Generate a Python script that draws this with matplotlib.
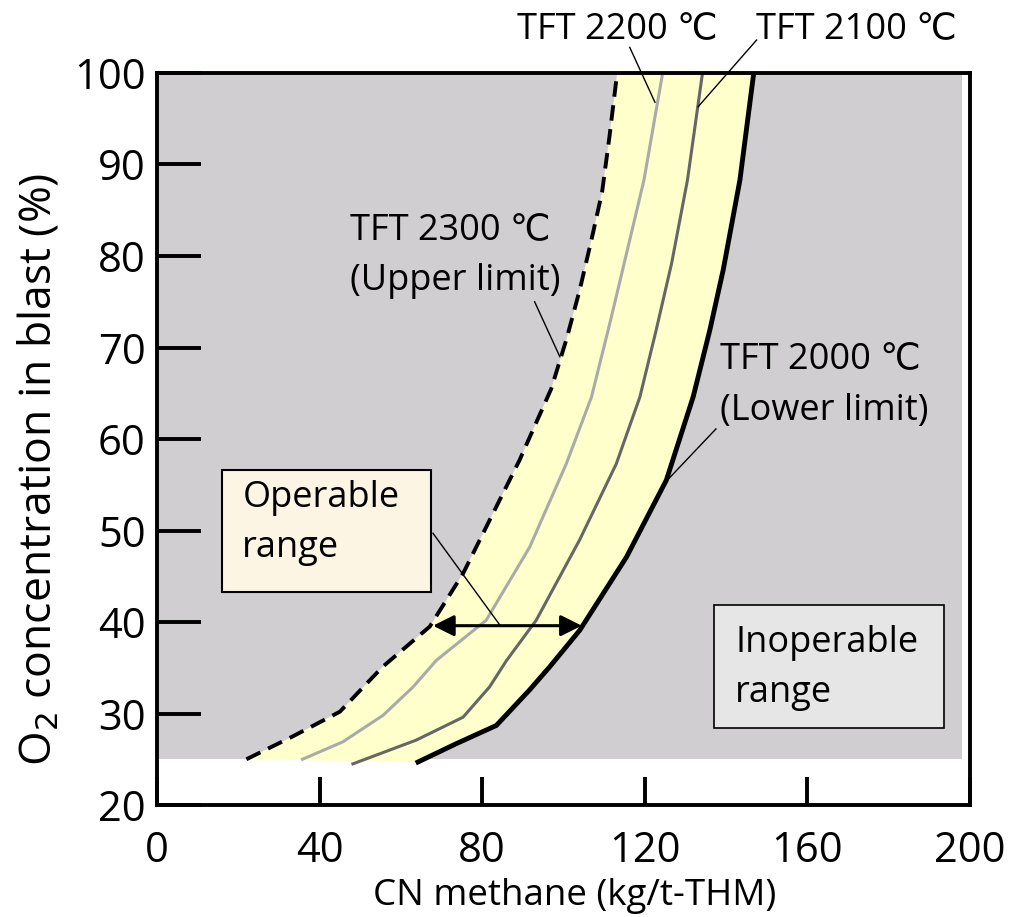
import matplotlib
matplotlib.use("Agg")
import matplotlib.pyplot as plt
from matplotlib.patches import Rectangle

plt.rcParams['font.family'] = ['Open Sans', 'DejaVu Sans']

# curves: CN methane (kg/t-THM) vs O2 (%)
x2300 = [22, 33.4, 45, 55.5, 61.3, 67.1, 75.3, 81.8, 89.2, 97, 100.8, 104, 107, 109.5, 111.3, 113.2]
y2300 = [25, 27.5, 30.2, 35.1, 37.3, 39.5, 45.3, 51.1, 57.7, 65.5, 71, 76.3, 82, 87, 93, 100]
x2200 = [35.8, 45.7, 55.6, 63, 68.7, 81, 91.7, 100.7, 106.9, 111.6, 115.9, 119.8, 124.4]
y2200 = [25, 26.9, 29.8, 32.9, 35.8, 40.2, 48.2, 57.3, 64.6, 73, 81, 88.3, 100]
x2100 = [48.2, 63.8, 75.3, 81.8, 86, 93.3, 104, 113, 118.8, 122.8, 126.6, 130.5, 134.2]
y2100 = [24.5, 27.1, 29.6, 32.9, 35.8, 40.2, 49, 57.3, 64.6, 71.9, 79.2, 88.3, 100]
x2000 = [64.2, 73.6, 83.5, 91.7, 96.6, 104, 115.5, 125.3, 131.9, 136, 139.3, 143.4, 146.8]
y2000 = [24.7, 26.7, 28.7, 32.6, 35.1, 39.1, 47.1, 55.5, 64.6, 71.9, 78.5, 88.3, 100]

xticks = [0, 40, 80, 120, 160, 200]
yticks = [20, 30, 40, 50, 60, 70, 80, 90, 100]

fig = plt.figure(figsize=(10.1, 9.17), dpi=100)
ax = fig.add_axes([0.1554, 0.1221, 0.805, 0.7983])
ax.set_xlim(0, 200)
ax.set_ylim(20, 100)

# inoperable background
ax.add_patch(Rectangle((0, 25), 198, 75, facecolor='#d0ced0', edgecolor='none', zorder=0))

# operable band
ax.fill(x2300 + x2000[::-1], y2300 + y2000[::-1], color='#ffffcc', zorder=1, lw=0)

ax.plot(x2300, y2300, color='black', lw=2.8, dashes=(4, 2.2), zorder=3)
ax.plot(x2200, y2200, color='#aaaaaa', lw=2.2, zorder=3, solid_joinstyle='round')
ax.plot(x2100, y2100, color='#666666', lw=2.2, zorder=3, solid_joinstyle='round')
ax.plot(x2000, y2000, color='black', lw=3.5, zorder=3, solid_joinstyle='round')

# double arrow
ax.annotate('', xy=(104.5, 39.6), xytext=(67.9, 39.6),
            arrowprops=dict(arrowstyle='<|-|>', color='black', lw=2.2,
                            mutation_scale=32, shrinkA=0, shrinkB=0), zorder=4)

fs = 26
ls = 1.5
# boxes
ax.add_patch(Rectangle((16, 43.3), 51.4, 13.3, facecolor='#fdf5e4', edgecolor='black', lw=1.5, zorder=4))
ax.text(21, 50.8, 'Operable\nrange', fontsize=fs, va='center', ha='left', linespacing=ls, zorder=5)
ax.plot([67.9, 84.3], [49.7, 39.7], color='black', lw=1, zorder=4)

ax.add_patch(Rectangle((137, 28.4), 56.5, 13.5, facecolor='#e6e6e6', edgecolor='black', lw=1.2, zorder=4))
ax.text(142.2, 35.0, 'Inoperable\nrange', fontsize=fs, va='center', ha='left', linespacing=ls, zorder=5)

# curve labels
ax.text(47.5, 80.0, 'TFT 2300 ℃\n(Upper limit)', fontsize=fs, va='center', ha='left', linespacing=ls)
ax.plot([92.9, 99.1], [75, 69], color='black', lw=1, zorder=4)

ax.text(138.5, 65.8, 'TFT 2000 ℃\n(Lower limit)', fontsize=fs, va='center', ha='left', linespacing=1.55)
ax.plot([137.5, 124.9], [61.1, 55.2], color='black', lw=1, zorder=4)

ax.text(88.5, 104.7, 'TFT 2200 ℃', fontsize=fs, va='center', ha='left')
ax.plot([116.3, 122.5], [102.8, 96.8], color='black', lw=1, zorder=4, clip_on=False)
ax.text(147.3, 104.7, 'TFT 2100 ℃', fontsize=fs, va='center', ha='left')
ax.plot([147.5, 133.1], [103.6, 96.3], color='black', lw=1, zorder=4, clip_on=False)

ax.set_xticks(xticks)
ax.set_yticks(yticks)
ax.tick_params(axis='y', direction='in', length=32, width=2.8, labelsize=30, pad=8)
ax.tick_params(axis='x', direction='in', length=20, width=2.8, labelsize=30, pad=18)
for s in ax.spines.values():
    s.set_linewidth(2.8)
    s.set_zorder(6)

ax.set_xlabel('CN methane (kg/t-THM)', fontsize=26.5)
ax.xaxis.set_label_coords(0.514, -0.0997)
ax.set_ylabel('O$_2$ concentration in blast (%)', fontsize=32)
ax.yaxis.set_label_coords(-0.117, 0.458)

fig.savefig('out.png', dpi=100)
